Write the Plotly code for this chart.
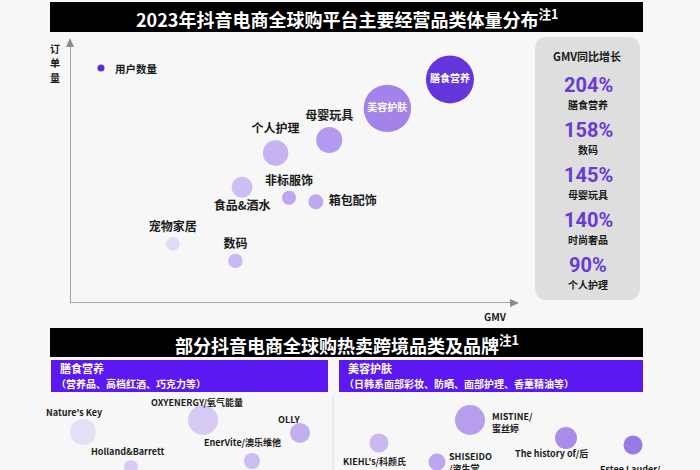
import plotly.graph_objects as go

# ---------------- data ----------------
categories = ["膳食营养", "美容护肤", "母婴玩具", "个人护理", "食品&酒水", "非标服饰", "箱包配饰", "宠物家居", "数码"]
gmv = [85, 71, 58, 46, 38.5, 49, 55, 23, 37]
orders = [85, 74, 62, 57, 44, 40, 38.5, 22.5, 16]
users = [230, 225, 68, 65, 44, 20, 22, 19, 21]

growth_categories = ["膳食营养", "数码", "母婴玩具", "时尚奢品", "个人护理"]
growth_values = [204, 158, 145, 140, 90]

food_brands = ["Nature's Key", "OXYENERGY/氧气能量", "OLLY", "EnerVite/澳乐维他", "Holland&Barrett", ""]
food_heat = [26, 30, 20, 16, 14, 24]
beauty_brands = ["KIEHL's/科颜氏", "SHISEIDO/资生堂", "MISTINE/蜜丝婷", "The history of/后", "Estee Lauder/雅诗兰黛"]
beauty_heat = [19, 17, 30, 22, 19]

# ---------------- styles / layout helpers ----------------
FONT = "Noto Sans CJK SC"
W, H = 700, 470
BG = "#f7f7f7"

cat_colors = ["#6535dc", "#a382ea", "#b39aef", "#c5b3f3", "#cdbff4", "#bca6f0", "#bea8f0", "#e1d9f8", "#c9b8f3"]
cat_textpos = ["middle center", "middle center", "top center", "top center", "bottom center",
               "top center", "middle right", "top center", "top center"]
cat_textcolor = ["white", "white"] + ["#1a1a1a"] * 7
cat_textsize = [10, 10] + [12] * 7
cat_labels = [(" " + c) if cat_textpos[i] == "middle right" else c for i, c in enumerate(categories)]

food_pos = [(83, 432), (203, 420), (300, 433), (252, 461), (131, 467), (188, 480)]
food_colors = ["#dcd3f6", "#c8b5f2", "#ad90ec", "#bba5ef", "#c9b8f2", "#c9b8f2"]
beauty_pos = [(379, 443), (437, 462), (470, 420), (566, 438), (633, 445)]
beauty_colors = ["#b89df0", "#a585ec", "#9c79e9", "#8760e5", "#6c45dd"]

fig = go.Figure()

# main bubble chart
fig.add_trace(go.Scatter(
    x=gmv, y=orders, mode="markers+text",
    text=cat_labels, textposition=cat_textpos,
    textfont=dict(family=FONT, size=cat_textsize, color=cat_textcolor, weight="bold"),
    marker=dict(size=users, sizemode="area", sizeref=0.2, color=cat_colors, line=dict(width=0), opacity=1),
    cliponaxis=False, showlegend=False, hoverinfo="text", xaxis="x", yaxis="y",
))

# brand bubbles (pixel-grid layout axis)
fig.add_trace(go.Scatter(
    x=[p[0] for p in food_pos] + [p[0] for p in beauty_pos],
    y=[p[1] for p in food_pos] + [p[1] for p in beauty_pos],
    mode="markers",
    marker=dict(size=food_heat + beauty_heat, sizemode="diameter", sizeref=1,
                color=food_colors + beauty_colors, line=dict(width=0)),
    hovertext=food_brands + beauty_brands, hoverinfo="text",
    cliponaxis=False, showlegend=False, xaxis="x2", yaxis="y2",
))

shapes = []
ann = []

def A(x, y, text, size=10, color="#1a1a1a", bold=True, xanchor="center", yanchor="middle", align="center", family=FONT):
    ann.append(dict(x=x, y=y, xref="x2", yref="y2", text=text, showarrow=False,
                    xanchor=xanchor, yanchor=yanchor, align=align,
                    font=dict(family=family, size=size, color=color, weight="bold" if bold else "normal")))

# banners
for y0, y1, title in [(2, 32, "2023年抖音电商全球购平台主要经营品类体量分布<sup>注1</sup>"),
                      (328, 357, "部分抖音电商全球购热卖跨境品类及品牌<sup>注1</sup>")]:
    shapes.append(dict(type="rect", xref="x2", yref="y2", x0=50, x1=643, y0=y0, y1=y1,
                       fillcolor="#000000", line=dict(width=0), layer="below"))
    A(347, (y0 + y1) / 2 + 1, title, size=18, color="white")

# axes (lines + arrowheads)
AX = "#8c8c8c"
shapes.append(dict(type="line", xref="x", yref="y", x0=0, x1=100, y0=0, y1=0, line=dict(color=AX, width=1.6)))
shapes.append(dict(type="line", xref="x", yref="y", x0=0, x1=0, y0=0, y1=100, line=dict(color=AX, width=1.6)))
shapes.append(dict(type="path", xref="x2", yref="y2", path="M 519,303 L 510,299 L 510,307 Z",
                   fillcolor=AX, line=dict(width=0)))
shapes.append(dict(type="path", xref="x2", yref="y2", path="M 70,38 L 66,47 L 74,47 Z",
                   fillcolor=AX, line=dict(width=0)))
for k, ch in enumerate("订单量"):
    A(55, 48 + k * 14.6, ch, size=10)
A(495, 316, "GMV", size=10)

# legend
shapes.append(dict(type="circle", xref="x2", yref="y2", x0=97.5, x1=104.5, y0=64.5, y1=71.5,
                   fillcolor="#5a2bd8", line=dict(width=0)))
A(113, 68, "用户数量", size=10.5, xanchor="left")

# GMV growth panel (rounded rect)
x0, x1, y0, y1, r = 535, 640, 37, 300, 13
path = (f"M {x0+r},{y0} L {x1-r},{y0} Q {x1},{y0} {x1},{y0+r} L {x1},{y1-r} Q {x1},{y1} {x1-r},{y1} "
        f"L {x0+r},{y1} Q {x0},{y1} {x0},{y1-r} L {x0},{y0+r} Q {x0},{y0} {x0+r},{y0} Z")
shapes.append(dict(type="path", xref="x2", yref="y2", path=path, fillcolor="#dedede",
                   line=dict(width=0), layer="below"))
A(587, 56, "GMV同比增长", size=11)
for i, (cat, val) in enumerate(zip(growth_categories, growth_values)):
    A(588, 85 + i * 45, f"{val}%", size=20, color="#6a3ad8", family="Roboto")
    A(588, 104.5 + i * 45, cat, size=10)

# purple sub-headers
for bx0, bx1, head, sub in [(51, 328, "膳食营养", "（营养品、高档红酒、巧克力等）"),
                            (339, 643, "美容护肤", "（日韩系面部彩妆、防晒、面部护理、香薰精油等）")]:
    shapes.append(dict(type="rect", xref="x2", yref="y2", x0=bx0, x1=bx1, y0=360, y1=392,
                       fillcolor="#5b18f0", line=dict(width=0), layer="below"))
    A(bx0 + 7, 368, head, size=11, color="white", xanchor="left")
    A(bx0 + 3, 383, sub, size=10, color="white", xanchor="left")

# column separator
shapes.append(dict(type="line", xref="x2", yref="y2", x0=333, x1=333, y0=395, y1=470,
                   line=dict(color="#dcdcdc", width=1)))

# brand labels
BS = 9
A(74, 412, food_brands[0], size=BS)
A(197, 402, food_brands[1], size=BS)
A(289, 419, food_brands[2], size=BS)
A(242, 442, food_brands[3], size=BS)
A(128, 451, food_brands[4], size=BS)
A(374, 461, beauty_brands[0], size=BS)
A(447, 462, "SHISEIDO<br>/资生堂", size=BS, xanchor="left", align="left")
A(490, 422, "MISTINE/<br>蜜丝婷", size=BS, xanchor="left", align="left")
A(551, 453, beauty_brands[3], size=BS)
A(630, 461, "Estee Lauder/<br>雅诗兰黛", size=BS, yanchor="top")

noax = dict(showgrid=False, zeroline=False, showticklabels=False, showline=False, ticks="", fixedrange=True)
fig.update_layout(
    width=W, height=H, margin=dict(l=0, r=0, t=0, b=0),
    paper_bgcolor=BG, plot_bgcolor="rgba(0,0,0,0)",
    xaxis=dict(domain=[70 / W, 517 / W], range=[0, 100], anchor="y", **noax),
    yaxis=dict(domain=[1 - 303 / H, 1 - 40 / H], range=[0, 100], anchor="x", **noax),
    xaxis2=dict(domain=[0, 1], range=[0, W], anchor="y2", **noax),
    yaxis2=dict(domain=[0, 1], range=[H, 0], anchor="x2", **noax),
    shapes=shapes, annotations=ann, font=dict(family=FONT),
)

fig.write_html("out.html", config={"displayModeBar": False},
               post_script="document.body.style.margin='0';document.body.style.background='%s';" % BG)
